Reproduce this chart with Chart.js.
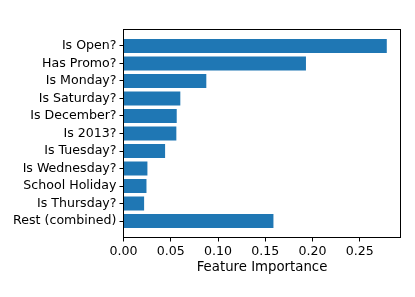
<!DOCTYPE html>
<html>
<head>
<meta charset="utf-8">
<script src="https://cdn.jsdelivr.net/npm/chart.js@4/dist/chart.umd.min.js"></script>
<style>
  html, body { margin: 0; padding: 0; background: #fff; }
  #wrap { width: 415px; height: 297px; }
</style>
</head>
<body>
<div id="wrap"><canvas id="c" width="415" height="297"></canvas></div>
<script>
const categories = ["Is Open?", "Has Promo?", "Is Monday?", "Is Saturday?", "Is December?", "Is 2013?", "Is Tuesday?", "Is Wednesday?", "School Holiday", "Is Thursday?", "Rest (combined)"];
const importance = [0.2785, 0.193, 0.0876, 0.0601, 0.0563, 0.0559, 0.044, 0.0253, 0.0243, 0.0218, 0.1586];
const xTickStep = 0.05;
const xMax = 0.293;
const xTitle = "Feature Importance";

Chart.defaults.font.family = "'DejaVu Sans', sans-serif";
Chart.defaults.font.size = 12.6;
Chart.defaults.color = "#000";

const framePlugin = {
  id: "frame",
  afterDraw(chart) {
    const a = chart.chartArea;
    const ctx = chart.ctx;
    ctx.save();
    ctx.strokeStyle = "#000";
    ctx.lineWidth = 1;
    ctx.strokeRect(a.left, a.top, a.right - a.left, a.bottom - a.top);
    ctx.restore();
  }
};

new Chart(document.getElementById("c"), {
  type: "bar",
  data: {
    datasets: [{
      data: importance.map((v, i) => ({ x: v, y: i })),
      backgroundColor: "#1f77b4",
      borderWidth: 0,
      barPercentage: 0.8,
      categoryPercentage: 1.0
    }]
  },
  plugins: [framePlugin],
  options: {
    indexAxis: "y",
    responsive: false,
    devicePixelRatio: 1,
    animation: false,
    layout: { padding: { top: 29.5, right: 14.5, left: 0, bottom: 0 } },
    plugins: { legend: { display: false }, tooltip: { enabled: false }, title: { display: false } },
    scales: {
      y: {
        type: "linear",
        reverse: true,
        offset: false,
        min: -0.94,
        max: 10.94,
        afterFit(s) { s.width = 123.5; },
        grid: { display: true, offset: false, drawOnChartArea: false, drawTicks: true, tickLength: 4, color: "#000" },
        border: { display: true, color: "#000", width: 1 },
        ticks: {
          stepSize: 1,
          includeBounds: false,
          autoSkip: false,
          padding: 3,
          callback: (v) => categories[v] !== undefined ? categories[v] : ""
        }
      },
      x: {
        type: "linear",
        min: 0,
        max: xMax,
        afterFit(s) { s.height = 59.5; },
        grid: { display: true, drawOnChartArea: false, drawTicks: true, tickLength: 4, color: "#000" },
        border: { display: true, color: "#000", width: 1 },
        ticks: {
          stepSize: xTickStep,
          includeBounds: false,
          autoSkip: false,
          maxRotation: 0,
          padding: 3,
          callback: (v) => Number(v).toFixed(2)
        },
        title: { display: true, text: xTitle, padding: { top: 21, bottom: 21 }, font: { size: 13.3 } }
      }
    }
  }
});
</script>
</body>
</html>
